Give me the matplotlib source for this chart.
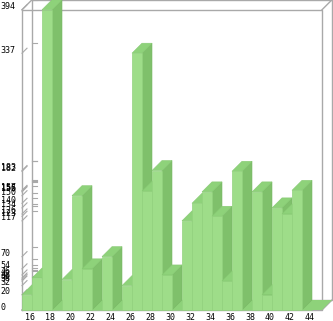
import matplotlib
matplotlib.use("Agg")
import matplotlib.pyplot as plt
from matplotlib.patches import Polygon

# data
categories = list(range(16, 45))
values = [20, 42, 394, 0, 40, 150, 54, 0, 70, 0, 32, 337, 156, 183, 46,
          0, 117, 140, 155, 123, 38, 182, 0, 155, 20, 134, 126, 157, 0]
xtick_labels = list(range(16, 45, 2))

front = "#9edd89"
side = "#7fc06b"
top = "#8ed27a"
frame = "#a9a9a9"

W, H = 333, 321
ppx = 10.0       # pixels per category
ppy = 0.762      # pixels per value unit
dx = 1.0                 # depth offset, x (categories)
dy = 10.0 / ppy          # depth offset, y (value units)

fig = plt.figure(figsize=(W / 100, H / 100), dpi=100)
ax = fig.add_axes([0, 0, 1, 1])
ax.set_xlim(15.5 - 22 / ppx, 15.5 + (W - 22) / ppx)
ax.set_ylim(-(H - 310) / ppy, 310 / ppy)
ax.axis("off")

x0 = categories[0] - 0.5
x1 = categories[-1] + 1.5
ymax = max(values)

# box frame
fx = [x0, x1, x1, x0, x0]
fy = [0, 0, ymax, ymax, 0]
ax.plot(fx, fy, color=frame, lw=1.0, zorder=1)
ax.plot([v + dx for v in fx], [v + dy for v in fy], color=frame, lw=1.0, zorder=1)
for cx, cy in [(x0, 0), (x1, 0), (x1, ymax), (x0, ymax)]:
    ax.plot([cx, cx + dx], [cy, cy + dy], color=frame, lw=1.0, zorder=1)

# floor
ax.add_patch(Polygon([(x0, 0), (x1, 0), (x1 + dx, dy), (x0 + dx, dy)],
                     closed=True, facecolor=top, edgecolor="none", zorder=2))

# y ticks at the data values
xl = ax.get_xlim()[0] + 0.05
for v in sorted(set(values)):
    ax.plot([x0, x0 + dx / 2], [v, v + dy / 2], color=frame, lw=0.8, zorder=1)
    ax.plot([x0 + dx, x0 + dx * 1.5], [v + dy, v + dy], color=frame, lw=0.8, zorder=1)
    ax.text(xl, v + 3 / ppy, str(v), ha="left", va="center",
            fontsize=6, family="DejaVu Sans Mono", color="black")

for c in xtick_labels:
    ax.text(c + 0.3, -7 / ppy, str(c), ha="center", va="center",
            fontsize=6, family="DejaVu Sans Mono", color="black")

bars = ax.bar(categories, values, width=1.0, color=front,
              edgecolor="#93d27f", linewidth=0.5)
for i, b in enumerate(bars):
    bx, bw, bh = b.get_x(), b.get_width(), b.get_height()
    z = 3 + 3 * i
    b.set_zorder(z + 2)
    if bh <= 0:
        continue
    ax.add_patch(Polygon([(bx + bw, 0), (bx + bw + dx, dy), (bx + bw + dx, bh + dy), (bx + bw, bh)],
                         closed=True, facecolor=side, edgecolor="#78b865", lw=0.4, zorder=z))
    ax.add_patch(Polygon([(bx, bh), (bx + bw, bh), (bx + bw + dx, bh + dy), (bx + dx, bh + dy)],
                         closed=True, facecolor=top, edgecolor="#86c972", lw=0.4, zorder=z + 1))

fig.savefig("out.png", dpi=100)
